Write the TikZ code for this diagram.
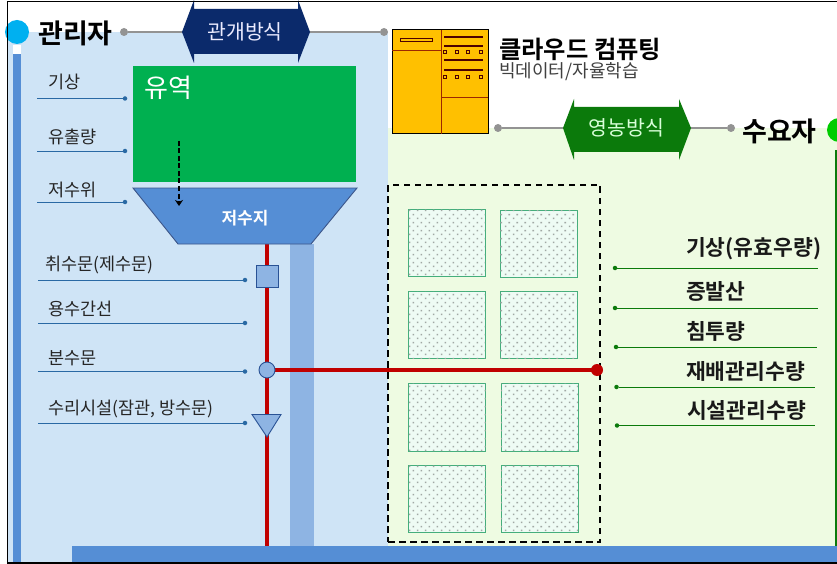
\documentclass[tikz,border=0pt]{standalone}
\usepackage{fontspec}
\setmainfont{Noto Sans CJK KR}[BoldFont={Noto Sans CJK KR Bold}]
\usetikzlibrary{patterns,arrows.meta,calc}
\pgfdeclarepatternformonly{ricedots}{\pgfqpoint{0pt}{0pt}}{\pgfqpoint{8pt}{8pt}}{\pgfqpoint{8pt}{8pt}}{
 \pgfpathrectangle{\pgfqpoint{1pt}{1pt}}{\pgfqpoint{1.7pt}{1.7pt}}
 \pgfpathrectangle{\pgfqpoint{5pt}{5pt}}{\pgfqpoint{1.7pt}{1.7pt}}
 \pgfusepath{fill}}
\definecolor{lblue}{HTML}{CFE4F6}
\definecolor{lgreen}{HTML}{EEFBE2}
\definecolor{midblue}{HTML}{558ED5}
\definecolor{colblue}{HTML}{8EB4E3}
\definecolor{navy}{HTML}{0B2A6B}
\definecolor{dgreen}{HTML}{0B7A0B}
\definecolor{basin}{HTML}{00B050}
\definecolor{redl}{HTML}{C00000}
\definecolor{gold}{HTML}{FFC000}
\definecolor{linkb}{HTML}{2E75B6}
\definecolor{skyc}{HTML}{00B0F0}
\definecolor{limec}{HTML}{00CC00}
\definecolor{plotedge}{HTML}{45AE7C}
\definecolor{plotfill}{HTML}{EEFBF4}
\definecolor{plotdot}{HTML}{A0A8A4}
\tikzset{
 x=1pt,y=-1pt,
 graydot/.style={circle,fill=gray!85,inner sep=0,minimum size=8pt},
 grayline/.style={draw=gray!85,line width=1.3pt},
 bdot/.style={circle,fill=linkb!90!black,inner sep=0,minimum size=4.5pt},
 bline/.style={draw=linkb!90!black,line width=.9pt},
 gdot/.style={circle,fill=dgreen,inner sep=0,minimum size=4.5pt},
 gline/.style={draw=dgreen,line width=.9pt},
 llabel/.style={anchor=west,inner sep=0,font=\fontsize{17.5}{19}\selectfont,text=black!85},
 rlabel/.style={anchor=west,inner sep=0,font=\bfseries\fontsize{21.5}{23}\selectfont,text=black!90},
 role/.style={anchor=west,inner sep=0,font=\bfseries\fontsize{27}{29}\selectfont},
 redpipe/.style={draw=redl,line width=3.6pt},
 valve/.style={draw=navy!60!midblue,fill=colblue,line width=.9pt},
 plot/.style={draw=plotedge,line width=1pt,fill=plotfill,postaction={pattern=ricedots,pattern color=plotdot}},
 srvline/.style={draw=black!65!gold!60!red,line width=1pt},
 srvbar/.style={draw=red!30!black,line width=1.6pt},
 srvdot/.style={draw=red!30!black,line width=.8pt,inner sep=0,minimum size=2.5pt},
}
\begin{document}
\begin{tikzpicture}
\useasboundingbox (0,0) rectangle (837,564);
\fill[white] (0,0) rectangle (837,564);
% backgrounds
\fill[lblue] (8,32) rectangle (388,563);
\fill[lgreen] (388,128) rectangle (837,563);
\fill[white] (13,45) rectangle (21,54);
\fill[midblue] (13,54) rectangle (21,563);
\fill[dgreen] (834.5,150) rectangle (837,563);
\fill[colblue] (290,244) rectangle (314,546);
% red pipes
\coordinate (pipetop) at (267,244);
\coordinate (pipebot) at (267,546);
\draw[redpipe] (pipetop) -- (pipebot);
\fill[midblue] (72,546) rectangle (837,562.5);
% dashed area
\node[draw=black,line width=1.6pt,dash pattern=on 6.5pt off 4.5pt,inner sep=0,minimum width=212pt,minimum height=357pt] (area) at (494,363.5) {};
% plots
\node[plot,inner sep=0,minimum width=77pt,minimum height=67pt] (p1) at (446.5,243) {};
\node[plot,inner sep=0,minimum width=77pt,minimum height=67pt] (p2) at (538.5,243.5) {};
\node[plot,inner sep=0,minimum width=77pt,minimum height=67pt] (p3) at (446.5,325) {};
\node[plot,inner sep=0,minimum width=77pt,minimum height=67pt] (p4) at (538.5,325) {};
\node[plot,inner sep=0,minimum width=77pt,minimum height=68pt] (p5) at (447,417) {};
\node[plot,inner sep=0,minimum width=77pt,minimum height=68pt] (p6) at (539.5,417) {};
\node[plot,inner sep=0,minimum width=77pt,minimum height=67pt] (p7) at (447,498.5) {};
\node[plot,inner sep=0,minimum width=77pt,minimum height=67pt] (p8) at (539.5,498.5) {};
% basin
\node[fill=basin,inner sep=0,minimum width=223pt,minimum height=116pt] (basin) at (244.5,124) {};
\node[anchor=west,inner sep=0,text=white,font=\fontsize{26}{28}\selectfont] (basinlbl) at (144,88) {유역};
% reservoir
\draw[fill=midblue,draw=navy!80,line width=.9pt] (133,188) -- (357,188) -- (311,244) -- (178,244) -- cycle;
\node[inner sep=0,text=white,font=\bfseries\fontsize{17}{19}\selectfont] (res) at (245,218) {저수지};
\coordinate (ra) at (179,141);
\coordinate (rb) at (179,206);
\draw[black,line width=2.6pt,dash pattern=on 5pt off 2.5pt,-{Stealth[length=6pt,width=8pt]}] (ra) -- (rb);
% valves
\node[valve,rectangle,inner sep=0,minimum size=22pt] (gate) at (267.5,276) {};
\node[fill=redl,circle,inner sep=0,minimum size=12pt] (end) at (597,370) {};
\draw[redl,line width=3.8pt] (267,370) -- (end.center);
\node[valve,circle,inner sep=0,minimum size=16pt] (div) at (267,370) {};
\draw[valve] (252,414.5) -- (281,414.5) -- (267,437) -- cycle;
% top arrows and links
\node[graydot] (g1) at (124,32) {};
\node[graydot] (g2) at (384,32) {};
\draw[grayline] (g1) -- (g2);
\node[graydot] (g3) at (498,128) {};
\node[graydot] (g4) at (731,128) {};
\draw[grayline] (g3) -- (g4);
\fill[navy] (182,32) -- (194,0) -- (194,9) -- (298,9) -- (298,0) -- (310,32) -- (298,63) -- (298,54) -- (194,54) -- (194,63) -- cycle;
\node[inner sep=0,text=white!92!blue,font=\fontsize{20.5}{22}\selectfont] (irr) at (245,32) {관개방식};
\fill[dgreen] (563,128) -- (574,99) -- (574,107) -- (679,107) -- (679,99) -- (691,128) -- (679,160) -- (679,152) -- (574,152) -- (574,160) -- cycle;
\node[inner sep=0,text=green!15!white,font=\fontsize{20.5}{22}\selectfont] (farm) at (626.5,128) {영농방식};
% roles
\node[circle,fill=skyc,inner sep=0,minimum size=24pt] (mc) at (17,32) {};
\node[role] (mgr) at (38,33) {관리자};
\node[role] (usr) at (742,131) {수요자};
\node[circle,fill=limec,inner sep=0,minimum size=24pt] (uc) at (839,130) {};
% server
\node[draw=black,line width=1pt,fill=gold,inner sep=0,minimum width=96pt,minimum height=104pt] (srv) at (440,82) {};
\draw[srvline] (441,30) -- (441,134);
\draw[srvline] (392,51) -- (441,51);
\draw[srvline] (441,98) -- (488,98);
\draw[line width=.9pt,draw=black!70!red] (400,38) rectangle (432,41);
\foreach \y in {37,46,60,70} \draw[srvbar] (444,\y) -- (483,\y);
\foreach \y in {52,77} \foreach \x in {445,457,468,481}
  \node[srvdot,rectangle] at (\x,\y) {};
\node[anchor=west,inner sep=0,font=\bfseries\fontsize{24.3}{26}\selectfont] (cloud) at (499,49) {클라우드 컴퓨팅};
\node[anchor=west,inner sep=0,text=black!75,font=\fontsize{18}{20}\selectfont] (big) at (499,72) {빅데이터/자율학습};
% left labels
\foreach \n/\t/\lx/\ly/\ex/\ey/\sx in {
 a/기상/48/82/125/98.5/37, b/유출량/48/137/125/151/37, c/저수위/48/190/125/202/37,
 d/취수문(제수문)/45/265/245/280/38, e/용수간선/48/309/245/323/38, f/분수문/48/358/245/371.5/38,
 g/{수리시설(잠관, 방수문)}/48/409/245/423/38}{
 \node[llabel] (l\n) at (\lx,\ly) {\t};
 \node[bdot] (d\n) at (\ex,\ey) {};
 \coordinate (s\n) at (\sx,\ey);
 \draw[bline] (s\n) -- (d\n);
}
% right labels
\foreach \n/\t/\lx/\ly/\ex/\ey/\sx in {
 a/기상(유효우량)/686/249/615/268/818, b/증발산/686/291/615/308/818, c/침투량/686/331/616/347/817,
 d/재배관리수량/686/371/616.5/387/815, e/시설관리수량/687/410/617/425.5/815}{
 \node[rlabel] (r\n) at (\lx,\ly) {\t};
 \node[gdot] (q\n) at (\ex,\ey) {};
 \coordinate (t\n) at (\sx,\ey);
 \draw[gline] (q\n) -- (t\n);
}
% frame
\draw[black,line width=1.4pt] (7.5,1.5) -- (837,1.5);
\draw[black,line width=1.4pt] (7.5,1.5) -- (7.5,563) -- (837,563);
\end{tikzpicture}
\end{document}
